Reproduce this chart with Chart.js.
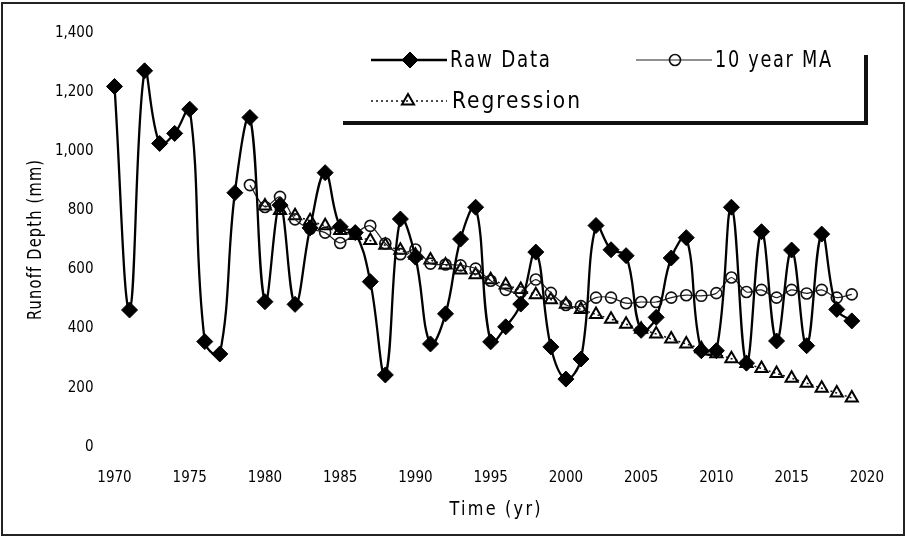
<!DOCTYPE html>
<html>
<head>
<meta charset="utf-8">
<script src="https://cdn.jsdelivr.net/npm/chart.js@4.4.1/dist/chart.umd.min.js"></script>
<style>
html,body{margin:0;padding:0;background:#fff;}
#wrap{width:906px;height:537px;position:relative;}
</style>
</head>
<body>
<div id="wrap"><canvas id="c" width="906" height="537"></canvas></div>
<script>
// ---------- data ----------
const years = [1970,1971,1972,1973,1974,1975,1976,1977,1978,1979,
               1980,1981,1982,1983,1984,1985,1986,1987,1988,1989,
               1990,1991,1992,1993,1994,1995,1996,1997,1998,1999,
               2000,2001,2002,2003,2004,2005,2006,2007,2008,2009,
               2010,2011,2012,2013,2014,2015,2016,2017,2018,2019];
const rawData = [1220,463,1273,1027,1061,1143,356,314,860,1115,
                 491,818,482,741,928,745,725,559,243,771,
                 642,348,450,703,811,355,406,483,659,338,
                 229,297,749,667,647,394,438,639,708,325,
                 325,811,283,728,358,666,342,720,465,426];
const movingAvg = [null,null,null,null,null,null,null,null,null,886,
                   812,846,770,738,725,690,722,748,688,652,
                   668,620,617,614,603,562,531,523,566,521,
                   480,476,505,505,486,490,490,505,513,511,
                   520,573,524,531,505,531,519,531,505,516];
const regression = [null,null,null,null,null,null,null,null,null,null,
                    815,800,782,765,748,732,715,698,682,665,
                    648,632,615,598,582,565,548,532,515,498,
                    482,465,448,432,415,398,382,365,348,332,
                    315,298,282,265,248,232,215,198,182,165];
const seriesNames = ['Raw Data', '10 year MA', 'Regression'];
const xTickValues = [1970,1975,1980,1985,1990,1995,2000,2005,2010,2015,2020];
const yTickValues = [0,200,400,600,800,1000,1200,1400];
const xTitle = 'Time (yr)';
const yTitle = 'Runoff Depth (mm)';

// ---------- styling ----------
const FONT = '"DejaVu Sans Condensed", "Liberation Sans Narrow", "DejaVu Sans", sans-serif';
Chart.defaults.font.family = FONT;
Chart.defaults.color = '#000';

const toXY = arr => years.map((yr, i) => ({x: yr, y: arr[i]}));

const legendLayout = [
  {x0: 371, x1: 447, y: 60, mx: 410, tx: 450, w: 100},
  {x0: 636, x1: 712, y: 60, mx: 675, tx: 715, w: 116},
  {x0: 371, x1: 447, y: 101, mx: 408, tx: 452, w: 128}
];

// draw text horizontally condensed to fit a target width
function drawFitted(ctx, text, x, y, size, width, spacing, align) {
  ctx.save();
  ctx.font = size + 'px ' + FONT;
  ctx.letterSpacing = spacing + 'px';
  const w = ctx.measureText(text).width - spacing;
  const sx = width / w;
  ctx.translate(x, y);
  ctx.scale(sx, 1);
  ctx.textBaseline = 'middle';
  ctx.textAlign = 'left';
  const startX = align === 'center' ? -w / 2 : 0;
  ctx.fillText(text, startX, 0);
  ctx.restore();
}

const decor = {
  id: 'decor',
  beforeDraw(chart) {
    const ctx = chart.ctx;
    ctx.save();
    ctx.fillStyle = '#fff';
    ctx.fillRect(0, 0, chart.width, chart.height);
    ctx.restore();
  },
  afterDraw(chart) {
    const ctx = chart.ctx;
    ctx.save();
    // outer frame
    ctx.strokeStyle = '#222';
    ctx.lineWidth = 2;
    ctx.strokeRect(2, 3, 902, 532);

    // legend frame (shadowed box edges)
    ctx.strokeStyle = '#111';
    ctx.lineWidth = 4;
    ctx.beginPath();
    ctx.moveTo(343, 123); ctx.lineTo(868, 123);
    ctx.moveTo(866, 55); ctx.lineTo(866, 125);
    ctx.stroke();

    // legend entries from datasets
    chart.data.datasets.forEach((ds, i) => {
      const L = legendLayout[i];
      ctx.save();
      ctx.strokeStyle = ds.borderColor;
      ctx.lineWidth = ds.borderWidth;
      ctx.setLineDash(ds.borderDash || []);
      ctx.beginPath();
      ctx.moveTo(L.x0, L.y); ctx.lineTo(L.x1, L.y);
      ctx.stroke();
      ctx.setLineDash([]);
      ctx.fillStyle = ds.pointBackgroundColor;
      ctx.strokeStyle = ds.pointBorderColor;
      ctx.lineWidth = ds.pointBorderWidth;
      Chart.helpers.drawPoint(ctx, {pointStyle: ds.pointStyle, radius: ds.pointRadius, borderWidth: ds.pointBorderWidth, rotation: 0}, L.mx, L.y);
      ctx.restore();
      ctx.fillStyle = '#000';
      drawFitted(ctx, ds.label, L.tx, L.y + 1, 23, L.w, 2, 'left');
    });

    // axis titles
    ctx.fillStyle = '#000';
    drawFitted(ctx, xTitle, 495, 510, 20, 91, 2.5, 'center');
    ctx.translate(36, 240);
    ctx.rotate(-Math.PI / 2);
    drawFitted(ctx, yTitle, 0, 0, 20, 160, 1.5, 'center');
    ctx.restore();
  }
};

new Chart(document.getElementById('c'), {
  type: 'line',
  data: {
    datasets: [
      {
        label: seriesNames[0],
        data: toXY(rawData),
        borderColor: '#000',
        borderWidth: 2.3,
        tension: 0.4,
        pointStyle: 'rectRot',
        pointRadius: 8,
        pointBorderWidth: 1,
        pointBackgroundColor: '#000',
        pointBorderColor: '#000',
        clip: false
      },
      {
        label: seriesNames[1],
        data: toXY(movingAvg),
        borderColor: '#222',
        borderWidth: 1.2,
        tension: 0.3,
        pointStyle: 'circle',
        pointRadius: 5.5,
        pointBorderWidth: 1.6,
        pointBackgroundColor: 'rgba(255,255,255,0)',
        pointBorderColor: '#111',
        clip: false
      },
      {
        label: seriesNames[2],
        data: toXY(regression),
        borderColor: '#111',
        borderWidth: 1.5,
        borderDash: [2, 3],
        tension: 0,
        pointStyle: 'triangle',
        pointRadius: 7,
        pointBorderWidth: 2,
        pointBackgroundColor: 'rgba(255,255,255,0)',
        pointBorderColor: '#000',
        clip: false
      }
    ]
  },
  options: {
    responsive: false,
    animation: false,
    devicePixelRatio: 1,
    layout: {padding: {left: 0, right: 23, top: 33.3, bottom: 0}},
    plugins: {legend: {display: false}, tooltip: {enabled: false}},
    scales: {
      x: {
        type: 'linear',
        min: 1970, max: 2020,
        grid: {display: false, drawTicks: false},
        border: {display: false},
        afterBuildTicks: s => { s.ticks = xTickValues.map(v => ({value: v})); },
        afterFit: s => { s.height = 90.3; },
        ticks: {
          padding: 22,
          font: {size: 15},
          color: '#000',
          maxRotation: 0,
          autoSkip: false,
          callback: v => String(v)
        }
      },
      y: {
        min: 0, max: 1400,
        grid: {display: false, drawTicks: false},
        border: {display: false},
        afterBuildTicks: s => { s.ticks = yTickValues.map(v => ({value: v})); },
        afterFit: s => { s.width = 114.5; },
        ticks: {
          padding: 21,
          font: {size: 15},
          color: '#000',
          callback: v => v.toLocaleString('en-US')
        }
      }
    }
  },
  plugins: [decor]
});
</script>
</body>
</html>
